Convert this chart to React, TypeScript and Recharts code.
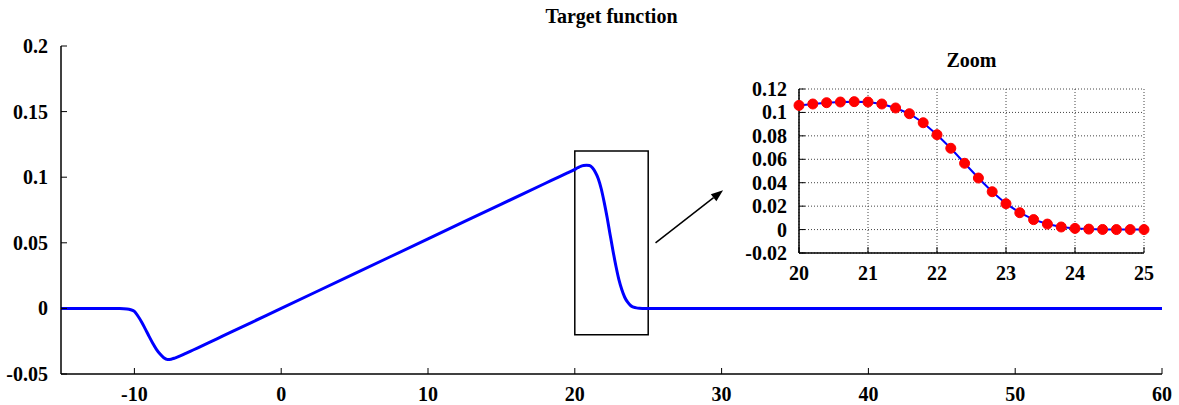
import React from 'react';
import {
  LineChart,
  Line,
  XAxis,
  YAxis,
  CartesianGrid,
  ReferenceArea,
  ReferenceLine,
} from 'recharts';

// main curve
const mainX = [
  -15, -12, -11, -10.5, -10.25, -10, -9.75, -9.5, -9.25, -9, -8.75, -8.5, -8.25, -8,
  -7.75, -7.5, -7.25, -7, -6.5, -6, -5, -4, -2, 0, 5, 10, 15, 18, 19, 19.5,
  20, 20.2, 20.4, 20.6, 20.8, 21, 21.2, 21.4, 21.6, 21.8, 22, 22.2, 22.4, 22.6, 22.8,
  23, 23.2, 23.4, 23.6, 23.8, 24, 24.2, 24.4, 24.6, 24.8, 25, 30, 40, 50, 60,
];
const mainY = [
  0, 0, -0.0001, -0.0004, -0.001, -0.0022, -0.006, -0.0105, -0.0158, -0.0213, -0.0265,
  -0.0312, -0.0348, -0.0376, -0.0389, -0.0387, -0.0379, -0.0368, -0.0343, -0.0317,
  -0.0265, -0.0212, -0.0106, 0, 0.0265, 0.053, 0.0795, 0.0954, 0.1007, 0.1033,
  0.106, 0.1072, 0.1083, 0.1089, 0.1092, 0.1089, 0.1072, 0.1038, 0.0989, 0.0912,
  0.081, 0.0694, 0.0566, 0.044, 0.0323, 0.0221, 0.0144, 0.0085, 0.0047, 0.0022,
  0.001, 0.0004, 0.0001, 0, 0, 0, 0, 0, 0, 0,
];

// zoomed samples
const zoomX = [
  20, 20.2, 20.4, 20.6, 20.8, 21, 21.2, 21.4, 21.6, 21.8, 22, 22.2, 22.4, 22.6, 22.8,
  23, 23.2, 23.4, 23.6, 23.8, 24, 24.2, 24.4, 24.6, 24.8, 25,
];
const zoomY = [
  0.106, 0.1072, 0.1083, 0.1089, 0.1092, 0.1089, 0.1072, 0.1038, 0.0989, 0.0912,
  0.081, 0.0694, 0.0566, 0.044, 0.0323, 0.0221, 0.0144, 0.0085, 0.0047, 0.0022,
  0.001, 0.0004, 0.0001, 0, 0, 0,
];

const mainXTicks = [-10, 0, 10, 20, 30, 40, 50, 60];
const mainYTicks = [-0.05, 0, 0.05, 0.1, 0.15, 0.2];
const zoomXTicks = [20, 21, 22, 23, 24, 25];
const zoomYTicks = [-0.02, 0, 0.02, 0.04, 0.06, 0.08, 0.1, 0.12];

const mainData = mainX.map((x, i) => ({ x, y: mainY[i] }));
const zoomData = zoomX.map((x, i) => ({ x, y: zoomY[i] }));

const FONT = '"Liberation Serif", "Times New Roman", serif';
const TICK = 6;

const label = {
  fontFamily: FONT,
  fontWeight: 'bold' as const,
  fontSize: 20,
  fill: '#000',
};

const bottomTick = (dy: number) => (p: any) => (
  <g>
    <line x1={p.x} x2={p.x} y1={p.y} y2={p.y - TICK} stroke="#000" />
    <text x={p.x} y={p.y + dy} textAnchor="middle" {...label}>
      {p.payload.value}
    </text>
  </g>
);

const topTick = (p: any) => (
  <line x1={p.x} x2={p.x} y1={p.y} y2={p.y + TICK} stroke="#000" />
);

const leftTick = (gap: number) => (p: any) => (
  <g>
    <line x1={p.x} x2={p.x + TICK} y1={p.y} y2={p.y} stroke="#000" />
    <text x={p.x - gap} y={p.y + 7} textAnchor="end" {...label}>
      {p.payload.value}
    </text>
  </g>
);

const rightTick = (p: any) => (
  <line x1={p.x} x2={p.x - TICK} y1={p.y} y2={p.y} stroke="#000" />
);

const Arrow = (p: any) => {
  const { x1, y1, x2, y2 } = p;
  const a = Math.atan2(y2 - y1, x2 - x1);
  const L = 12;
  const W = 4.5;
  const bx = x2 - L * Math.cos(a);
  const by = y2 - L * Math.sin(a);
  const nx = -Math.sin(a) * W;
  const ny = Math.cos(a) * W;
  return (
    <g>
      <line x1={x1} y1={y1} x2={bx} y2={by} stroke="#000" strokeWidth={1.5} />
      <polygon
        points={`${x2},${y2} ${bx + nx},${by + ny} ${bx - nx},${by - ny}`}
        fill="#000"
      />
    </g>
  );
};

const axisLine = { stroke: '#000', strokeWidth: 1.5 };

export default function App() {
  return (
    <div style={{ position: 'absolute', left: 0, top: 0, width: 1179, height: 405, background: '#fff' }}>
      <div
        style={{
          position: 'absolute', left: 61, top: 6, width: 1101, textAlign: 'center',
          fontFamily: FONT, fontWeight: 'bold', fontSize: 20, lineHeight: '20px',
        }}
      >
        Target function
      </div>
      <LineChart width={1179} height={405} data={mainData} margin={{ top: 46, right: 17, left: 0, bottom: 0 }}>
        <XAxis dataKey="x" type="number" domain={[-15, 60]} ticks={mainXTicks} height={31}
          tickSize={0} tickMargin={0} axisLine={axisLine} tick={bottomTick(27)} interval={0} />
        <XAxis xAxisId="top" orientation="top" type="number" domain={[-15, 60]} ticks={mainXTicks}
          height={0} tickSize={0} tickMargin={0} axisLine={axisLine} tick={topTick} interval={0} />
        <YAxis type="number" domain={[-0.05, 0.2]} ticks={mainYTicks} width={61}
          tickSize={0} tickMargin={0} axisLine={axisLine} tick={leftTick(13)} interval={0} />
        <YAxis yAxisId="right" orientation="right" type="number" domain={[-0.05, 0.2]} ticks={mainYTicks}
          width={0} tickSize={0} tickMargin={0} axisLine={axisLine} tick={rightTick} interval={0} />
        <ReferenceArea x1={20} x2={25} y1={-0.02} y2={0.12} fill="none" stroke="#000" strokeWidth={1.5} />
        <ReferenceLine segment={[{ x: 25.5, y: 0.05 }, { x: 30.1, y: 0.09 }]} shape={Arrow} />
        <Line type="monotone" dataKey="y" stroke="#0000ff" strokeWidth={3} dot={false} isAnimationActive={false} />
      </LineChart>

      <div
        style={{
          position: 'absolute', left: 799, top: 50, width: 345, textAlign: 'center',
          fontFamily: FONT, fontWeight: 'bold', fontSize: 20, lineHeight: '20px',
        }}
      >
        Zoom
      </div>
      <div style={{ position: 'absolute', left: 730, top: 40 }}>
        <LineChart width={430} height={250} data={zoomData} margin={{ top: 49, right: 16, left: 0, bottom: 0 }}>
          <CartesianGrid stroke="#444" strokeDasharray="1 2" />
          <XAxis dataKey="x" type="number" domain={[20, 25]} ticks={zoomXTicks} height={37}
            tickSize={0} tickMargin={0} axisLine={axisLine} tick={bottomTick(27)} interval={0} />
          <XAxis xAxisId="top" orientation="top" type="number" domain={[20, 25]} ticks={zoomXTicks}
            height={0} tickSize={0} tickMargin={0} axisLine={axisLine} tick={topTick} interval={0} />
          <YAxis type="number" domain={[-0.02, 0.12]} ticks={zoomYTicks} width={69}
            tickSize={0} tickMargin={0} axisLine={axisLine} tick={leftTick(12)} interval={0} />
          <YAxis yAxisId="right" orientation="right" type="number" domain={[-0.02, 0.12]} ticks={zoomYTicks}
            width={0} tickSize={0} tickMargin={0} axisLine={axisLine} tick={rightTick} interval={0} />
          <Line type="linear" dataKey="y" stroke="#0000ff" strokeWidth={2}
            dot={{ r: 5, fill: '#ff0000', stroke: '#ff0000', strokeWidth: 1 }} isAnimationActive={false} />
        </LineChart>
      </div>
    </div>
  );
}
